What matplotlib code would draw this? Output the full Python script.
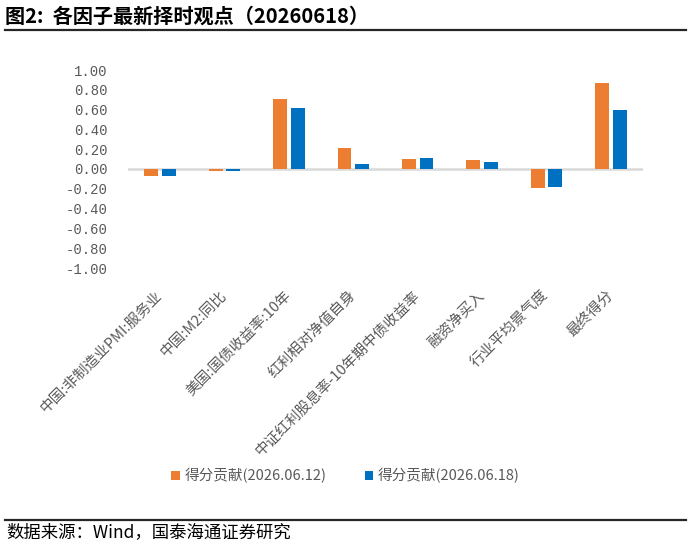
import numpy as np
import matplotlib
matplotlib.use("Agg")
import matplotlib.pyplot as plt
from matplotlib.lines import Line2D

plt.rcParams['font.family'] = ['Noto Sans CJK SC', 'DejaVu Sans']

# factor names and score contributions for the two dates
factors = ['中国:非制造业PMI:服务业', '中国:M2:同比', '美国:国债收益率:10年', '红利相对净值自身',
           '中证红利股息率-10年期中债收益率', '融资净买入', '行业平均景气度', '最终得分']
score_0612 = [-0.07, -0.02, 0.71, 0.21, 0.10, 0.09, -0.19, 0.87]
score_0618 = [-0.07, -0.02, 0.62, 0.05, 0.11, 0.07, -0.18, 0.60]
series_labels = ['得分贡献(2026.06.12)', '得分贡献(2026.06.18)']
yticks = [1.0, 0.8, 0.6, 0.4, 0.2, 0.0, -0.2, -0.4, -0.6, -0.8, -1.0]

orange = '#ED7D31'
blue = '#0070C0'
grey = '#595959'

fig = plt.figure(figsize=(6.91, 5.46), dpi=100)
ax = fig.add_axes([128 / 691, 1 - 268 / 546, 515 / 691, 198 / 546])

x = np.arange(len(factors))
w = 0.217
ax.axhline(0, color='#d9d9d9', lw=1.8, zorder=1)
ax.bar(x - 0.137, score_0612, width=w, color=orange, label=series_labels[0], zorder=2)
ax.bar(x + 0.137, score_0618, width=w, color=blue, label=series_labels[1], zorder=2)

ax.set_xlim(-0.5, len(factors) - 0.5)
ax.set_ylim(-1.0, 1.0)
ax.set_yticks(yticks)
ax.set_yticklabels([f'{v:.2f}' for v in yticks], family='Liberation Mono', fontsize=10, color=grey)
ax.set_xticks(x)
ax.set_xticklabels(factors, rotation=45, ha='right', va='center', rotation_mode='anchor',
                   fontsize=10.5, color=grey)
ax.tick_params(axis='y', length=0, pad=15)
ax.tick_params(axis='x', length=0, pad=18)
for s in ax.spines.values():
    s.set_visible(False)

fig.legend(loc='center', bbox_to_anchor=(0.5, 1 - 476 / 546), ncol=2, frameon=False,
           handlelength=0.6, handleheight=0.6, handletextpad=0.3, columnspacing=2.6,
           prop={'size': 10.5}, labelcolor=grey)

# title and source, with rules
fig.text(5 / 691, 1 - 16 / 546, '图2:  各因子最新择时观点（20260618）', fontsize=14.5, fontweight='bold',
         va='center', ha='left', color='black')
fig.add_artist(Line2D([5 / 691, 686 / 691], [1 - 30 / 546] * 2, color='#262626', lw=1.6))
fig.add_artist(Line2D([5 / 691, 686 / 691], [1 - 520 / 546] * 2, color='#262626', lw=1.6))
fig.text(6 / 691, 1 - 532 / 546, '数据来源：Wind，国泰海通证券研究', fontsize=12.5, va='center', ha='left',
         color='black')

fig.savefig('out.png', dpi=100)
